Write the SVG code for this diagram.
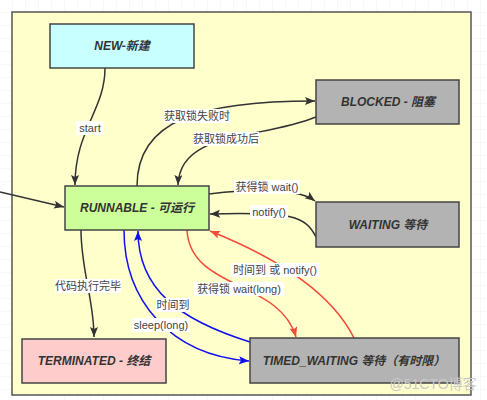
<svg xmlns="http://www.w3.org/2000/svg" width="487" height="400" viewBox="0 0 487 400">
<style>
.node rect{stroke:#444;stroke-width:1.5}
.nt{font-family:"Liberation Sans","Noto Sans CJK SC",sans-serif;font-size:12px;font-weight:bold;font-style:italic;fill:#333;text-anchor:middle;dominant-baseline:central}
.lb{font-family:"Liberation Sans","Noto Sans CJK SC",sans-serif;font-size:11px;fill:#444;text-anchor:middle;dominant-baseline:central}
.lbg{fill:#fff}
.k{fill:none;stroke:#333;stroke-width:1.5}
.r{fill:none;stroke:#f44a3a;stroke-width:1.5}
.b{fill:none;stroke:#1010ee;stroke-width:1.5}
</style>
<defs>
<pattern id="grid" width="13" height="13" patternUnits="userSpaceOnUse">
<path d="M13,0V13M0,13H13" fill="none" stroke="#f0f0f0" stroke-width="1"/>
</pattern>
<marker id="ak" markerUnits="userSpaceOnUse" markerWidth="12" markerHeight="10" refX="10" refY="4" orient="auto"><path d="M0,0L10,4L0,8L2,4Z" fill="#333"/></marker>
<marker id="ar" markerUnits="userSpaceOnUse" markerWidth="12" markerHeight="10" refX="10" refY="4" orient="auto"><path d="M0,0L10,4L0,8L2,4Z" fill="#f44a3a"/></marker>
<marker id="ab" markerUnits="userSpaceOnUse" markerWidth="12" markerHeight="10" refX="10" refY="4" orient="auto"><path d="M0,0L10,4L0,8L2,4Z" fill="#1010ee"/></marker>
</defs>
<rect width="487" height="400" fill="#fff"/>
<rect width="487" height="400" fill="url(#grid)"/>
<rect x="12" y="12" width="459" height="383" fill="#ffffcc" stroke="#555" stroke-width="1.5"/>

<g id="connectors">
<path class="k" d="M0,192 L64,207" marker-end="url(#ak)"/>
<path class="k" d="M105,68 C105,110 75,130 75,185" marker-end="url(#ak)"/>
<path class="k" d="M137,186 C137,120 200,101 315,101" marker-end="url(#ak)"/>
<path class="k" d="M316,117 C260,140 180,130 178,185" marker-end="url(#ak)"/>
<path class="k" d="M209,194 Q292,184 315,201" marker-end="url(#ak)"/>
<path class="k" d="M316,237 C305,215 290,212 210,214" marker-end="url(#ak)"/>
<path class="k" d="M81,230 C81,270 94,300 94,337" marker-end="url(#ak)"/>
<path class="b" d="M124,230 C124,300 170,355 249,361" marker-end="url(#ab)"/>
<path class="b" d="M250,342 C180,320 138,290 138,231" marker-end="url(#ab)"/>
<path class="r" d="M187,230 C190,290 280,280 296,337" marker-end="url(#ar)"/>
<path class="r" d="M354,338 C330,290 270,255 210,231" marker-end="url(#ar)"/>
<g id="labels">
<rect class="lbg" x="76" y="121" width="28" height="14"/><text class="lb" x="90" y="128">start</text>
<rect class="lbg" x="164" y="109" width="66" height="14"/><text class="lb" x="197" y="116">获取锁失败时</text>
<rect class="lbg" x="193" y="132" width="66" height="14"/><text class="lb" x="226" y="139">获取锁成功后</text>
<rect class="lbg" x="234" y="180" width="66" height="14"/><text class="lb" x="267" y="187">获得锁 wait()</text>
<rect class="lbg" x="250" y="205" width="38" height="14"/><text class="lb" x="269" y="212">notify()</text>
<rect class="lbg" x="55" y="279" width="66" height="14"/><text class="lb" x="88" y="286">代码执行完毕</text>
<rect class="lbg" x="156" y="298" width="34" height="14"/><text class="lb" x="173" y="305">时间到</text>
<rect class="lbg" x="132" y="318" width="58" height="14"/><text class="lb" x="161" y="325">sleep(long)</text>
<rect class="lbg" x="194" y="282" width="90" height="14"/><text class="lb" x="239" y="289">获得锁 wait(long)</text>
<rect class="lbg" x="231" y="263" width="88" height="14"/><text class="lb" x="275" y="270">时间到 或 notify()</text>
</g>
</g>

<g id="new" class="node"><rect x="50" y="24" width="144" height="44" fill="#c8ffff"/><text class="nt" x="122" y="46">NEW-新建</text></g>
<g id="blocked" class="node"><rect x="316" y="80" width="143" height="44" fill="#b3b3b3"/><text class="nt" x="388" y="102">BLOCKED - 阻塞</text></g>
<g id="runnable" class="node"><rect x="65" y="186" width="144" height="44" fill="#ccff99"/><text class="nt" x="137" y="208">RUNNABLE - 可运行</text></g>
<g id="waiting" class="node"><rect x="316" y="202" width="143" height="45" fill="#b3b3b3"/><text class="nt" x="388" y="224.5">WAITING 等待</text></g>
<g id="terminated" class="node"><rect x="22" y="339" width="144" height="44" fill="#ffcccc"/><text class="nt" x="94" y="361">TERMINATED - 终结</text></g>
<g id="timed" class="node"><rect x="250" y="338" width="209" height="45" fill="#b3b3b3"/><text class="nt" x="354" y="360.5">TIMED_WAITING 等待（有时限）</text></g>

<text x="433" y="384" font-family="Liberation Sans,Noto Sans CJK SC,sans-serif" font-size="14" fill="#c8c8c8" text-anchor="middle" dominant-baseline="central">@51CTO博客</text>
</svg>
